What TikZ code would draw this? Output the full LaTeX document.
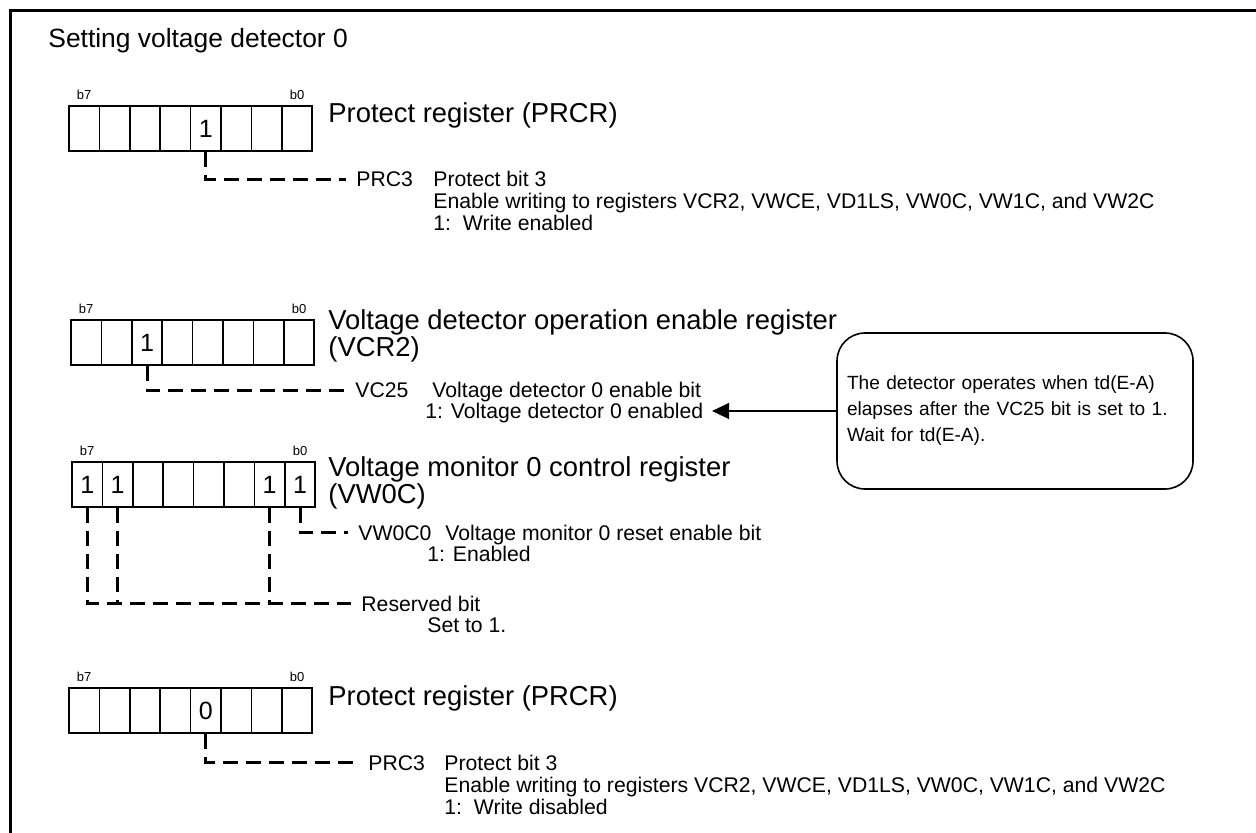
\documentclass[tikz,border=0pt]{standalone}
\usepackage{fontspec}
\setmainfont{Liberation Sans}
\usetikzlibrary{positioning}
\usetikzlibrary{arrows.meta}
\usetikzlibrary{math}

% one 8-bit register: name, left x, top y, list of bit/value
\newcommand{\regrow}[4]{%
  \foreach \b in {0,...,7}
    \node[cell] (#1-\b) at ({#2+(7.5-\b)*\cellw}, {#3+\cellh/2}) {};
  \foreach \b/\v in {#4}
    \node[bitval] (#1-v\b) at (#1-\b) {\v};
  \node[bitlbl] (#1-b7) at (#1-7.north) {b7};
  \node[bitlbl] (#1-b0) at (#1-0.north) {b0};
}

\begin{document}
\begin{tikzpicture}[x=0.5pt,y=-0.5pt,
    cell/.style={draw, line width=0.75pt, minimum width=15.2pt, minimum height=22.5pt, inner sep=0pt},
    bitval/.style={inner sep=0pt, font=\fontsize{12.5}{14}\selectfont},
    bitlbl/.style={anchor=south, inner sep=0pt, yshift=2.5pt, font=\fontsize{6.5}{7}\selectfont},
    regname/.style={anchor=base west, inner sep=0pt, font=\fontsize{13.7}{15}\selectfont},
    title/.style={anchor=base west, inner sep=0pt, font=\fontsize{13.2}{15}\selectfont},
    desc/.style={anchor=base west, inner sep=0pt, font=\fontsize{10.6}{12}\selectfont},
    code/.style={desc, inner xsep=5pt},
    lead/.style={line width=1.5pt, dash pattern=on 7.5pt off 4pt},
    note/.style={draw, line width=0.8pt, rounded corners=14pt, text width=168pt,
      minimum height=78pt, inner xsep=5pt, align=left,
      font=\fontsize{9.55}{13}\selectfont},
    arr/.style={line width=0.7pt, -{Triangle[length=8.5pt,width=8pt]}}]

  \tikzmath{
    \cellw = 30.4; % width of one bit cell
    \cellh = 45;   % height of one bit cell
  }

  \useasboundingbox (0,0) rectangle (1256,833);

  % frame
  \draw[line width=1.5pt] (10,833) -- (10,10.5) -- (1256,10.5);

  \node[title] (head) at (48,48) {Setting voltage detector 0};

  % PRCR, write enable
  \regrow{prcrA}{69}{106}{3/1}
  \node[regname] (prcrAname) at (328,123) {Protect register (PRCR)};
  \node[code] (prc3A) at (346,187) {PRC3};
  \node[desc] (prc3Aa) at (433,187) {Protect bit 3};
  \node[desc] (prc3Ab) at (433,209) {Enable writing to registers VCR2, VWCE, VD1LS, VW0C, VW1C, and VW2C};
  \node[desc] (prc3Ac) at (433,231) {1:~~Write enabled};
  \draw[lead] (prcrA-3.south) |- (prc3A.west);

  % VCR2
  \regrow{vcr}{71}{320}{5/1}
  \node[regname] (vcrname) at (328,330) {Voltage detector operation enable register};
  \node[regname] (vcrname2) at (328,357) {(VCR2)};
  \node[code] (vc25) at (345,398) {VC25};
  \node[desc] (vc25a) at (432,398) {Voltage detector 0 enable bit};
  \node[desc] (vc25b) at (425,419) {1: Voltage detector 0 enabled};
  \draw[lead] (vcr-5.south) |- (vc25.west);

  % VW0C
  \regrow{vwc}{72}{462}{7/1,6/1,1/1,0/1}
  \node[regname] (vwcname) at (328,476) {Voltage monitor 0 control register};
  \node[regname] (vwcname2) at (328,503) {(VW0C)};
  \node[code] (vw0c0) at (348,540) {VW0C0};
  \node[desc] (vw0c0a) at (445,540) {Voltage monitor 0 reset enable bit};
  \node[desc] (vw0c0b) at (427,561) {1: Enabled};
  \draw[lead] (vwc-0.south) |- (vw0c0.west);
  \node[code] (rsv) at (351,611) {Reserved bit};
  \node[desc] (rsva) at (427,632) {Set to 1.};
  \draw[lead] (vwc-7.south) |- (rsv.west);
  \draw[lead] (vwc-6.south) -- (vwc-6.south |- rsv.west);
  \draw[lead] (vwc-1.south) -- (vwc-1.south |- rsv.west);

  % PRCR, write disable
  \regrow{prcrB}{69}{688}{3/0}
  \node[regname] (prcrBname) at (328,705) {Protect register (PRCR)};
  \node[code] (prc3B) at (358,770) {PRC3};
  \node[desc] (prc3Ba) at (444,770) {Protect bit 3};
  \node[desc] (prc3Bb) at (444,792) {Enable writing to registers VCR2, VWCE, VD1LS, VW0C, VW1C, and VW2C};
  \node[desc] (prc3Bc) at (444,814) {1:~~Write disabled};
  \draw[lead] (prcrB-3.south) |- (prc3B.west);

  % note on the wait time
  \node[note] (note) at (1015,411) {The detector operates when td(E-A) elapses after the VC25 bit is set to 1.\\Wait for td(E-A).};
  \draw[arr, shorten >=4.25pt] (note.west) -- (note.west -| vc25b.east);

\end{tikzpicture}
\end{document}
